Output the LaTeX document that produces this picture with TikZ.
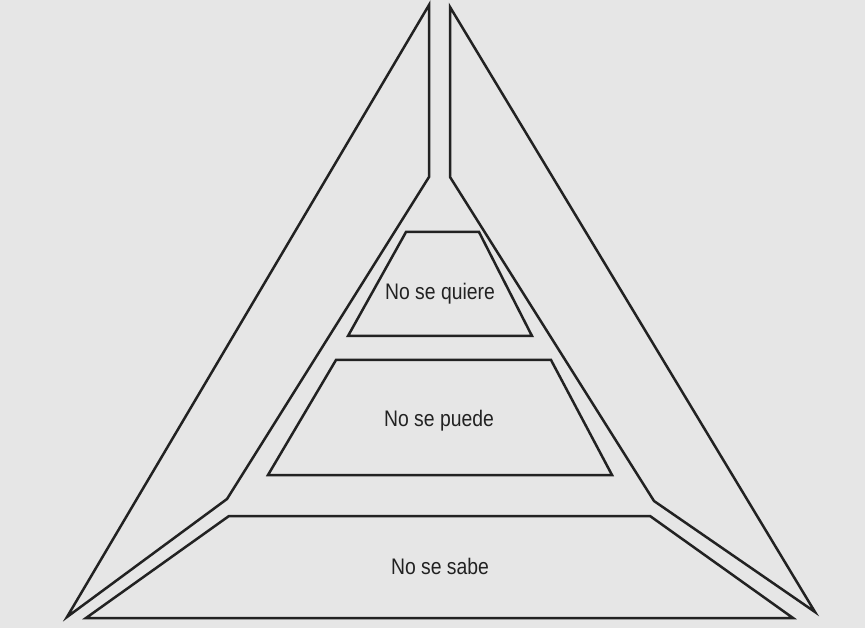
\documentclass[tikz,border=0pt]{standalone}
\usepackage{fontspec}
\newfontfamily\narrowsans[FakeStretch=0.86]{Liberation Sans}
\definecolor{bg}{HTML}{E6E6E6}
\definecolor{ink}{HTML}{222222}
\begin{document}
\begin{tikzpicture}[x=1pt,y=-1pt,
  shape line/.style={draw=ink,line width=2.5pt,line join=miter,miter limit=20},
  lbl/.style={font=\narrowsans\fontsize{22.5}{26}\selectfont,text=ink,inner sep=0pt,anchor=base}]
\fill[bg] (0,0) rectangle (865,628);
\useasboundingbox (0,0) rectangle (865,628);
% left wing
\draw[shape line] (67,617) -- (429,5) -- (429,177) -- (227,499) -- cycle;
% right wing
\draw[shape line] (450,7) -- (815,612) -- (654,501) -- (450,177) -- cycle;
% bottom trapezoid
\draw[shape line] (229,516) -- (650,516) -- (793,618) -- (86,618) -- cycle;
% middle trapezoid
\draw[shape line] (336,360) -- (551,360) -- (612,475) -- (268,475) -- cycle;
% top trapezoid
\draw[shape line] (406,232) -- (479,232) -- (532,336) -- (348,336) -- cycle;
\node[lbl] (quiere) at (440,300) {No se quiere};
\node[lbl] (puede) at (439,426) {No se puede};
\node[lbl] (sabe) at (440,574) {No se sabe};
\end{tikzpicture}
\end{document}
